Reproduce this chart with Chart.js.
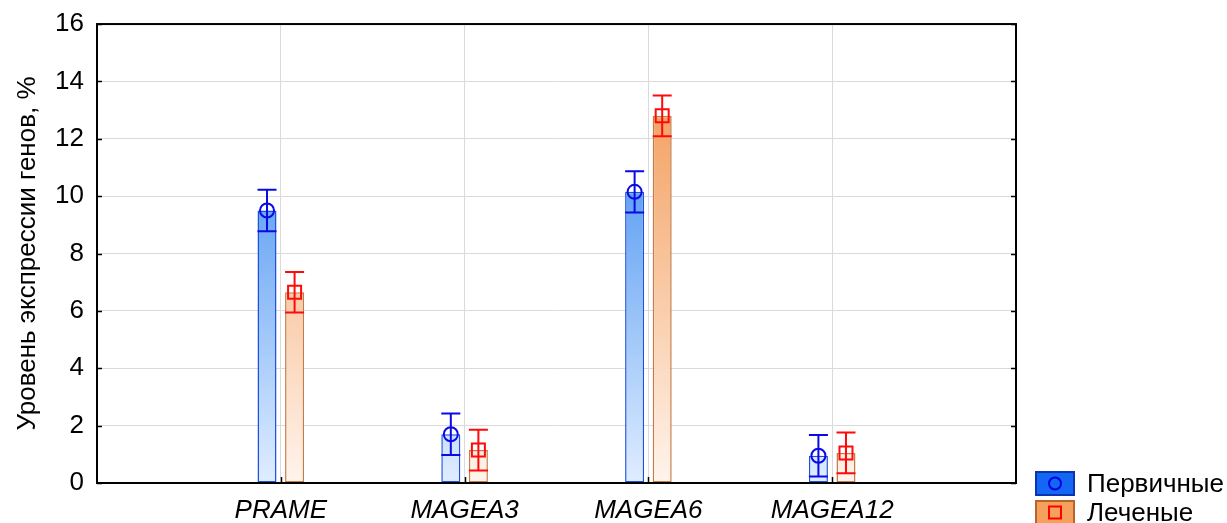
<!DOCTYPE html>
<html>
<head>
<meta charset="utf-8">
<script src="https://cdn.jsdelivr.net/npm/chart.js@4/dist/chart.umd.min.js"></script>
<style>
  html, body { margin: 0; padding: 0; background: #fff; }
  #wrap { position: relative; width: 1227px; height: 523px; }
</style>
</head>
<body>
<div id="wrap"><canvas id="c"></canvas></div>
<script>
// Gene expression levels (%), mean with error half-width
const genes = ['PRAME', 'MAGEA3', 'MAGEA6', 'MAGEA12'];
const primaryMean = [9.5, 1.7, 10.15, 0.95];
const primaryErr = [0.72, 0.72, 0.72, 0.72];
const treatedMean = [6.65, 1.15, 12.8, 1.05];
const treatedErr = [0.71, 0.71, 0.71, 0.71];
const seriesNames = ['Первичные', 'Леченые'];
const yTicks = [0, 2, 4, 6, 8, 10, 12, 14, 16];
const yTitle = 'Уровень экспрессии генов, %';

// empty slots on each side leave one category of space at the edges
const labels = ['', ...genes, ''];
const pad = arr => [null, ...arr, null];

const FONT = '"Liberation Sans", Arial, sans-serif';

function vGradient(ctx, top, bottom) {
  const chart = ctx.chart;
  const area = chart.chartArea;
  if (!area) return top;
  const g = chart.ctx.createLinearGradient(0, area.top, 0, area.bottom);
  g.addColorStop(0, top);
  g.addColorStop(1, bottom);
  return g;
}

const errorBarsPlugin = {
  id: 'errorBars',
  afterDatasetsDraw(chart) {
    const { ctx, scales: { y } } = chart;
    const specs = [
      { mean: primaryMean, err: primaryErr, color: '#0a0ae6', marker: 'circle' },
      { mean: treatedMean, err: treatedErr, color: '#ff0a0a', marker: 'square' }
    ];
    specs.forEach((s, di) => {
      const meta = chart.getDatasetMeta(di);
      s.mean.forEach((m, i) => {
        const bar = meta.data[i + 1];
        if (!bar) return;
        const x = bar.x;
        const half = bar.width / 2;
        const yTop = y.getPixelForValue(m + s.err[i]);
        const yBot = y.getPixelForValue(m - s.err[i]);
        const yMid = y.getPixelForValue(m);
        ctx.save();
        ctx.strokeStyle = s.color;
        ctx.lineWidth = 2;
        ctx.beginPath();
        ctx.moveTo(x, yTop); ctx.lineTo(x, yBot);
        ctx.moveTo(x - half, yTop); ctx.lineTo(x + half, yTop);
        ctx.moveTo(x - half, yBot); ctx.lineTo(x + half, yBot);
        ctx.stroke();
        ctx.beginPath();
        if (s.marker === 'circle') {
          ctx.arc(x, yMid, 7, 0, Math.PI * 2);
        } else {
          ctx.rect(x - 6.5, yMid - 6.5, 13, 13);
        }
        ctx.stroke();
        ctx.restore();
      });
    });
  },
  afterDraw(chart) {
    const { ctx, chartArea: a, scales: { x, y } } = chart;
    ctx.save();
    // frame
    ctx.strokeStyle = '#000';
    ctx.lineWidth = 2;
    ctx.strokeRect(a.left, a.top, a.right - a.left, a.bottom - a.top);
    // inner ticks
    ctx.lineWidth = 1.5;
    ctx.beginPath();
    yTicks.forEach(v => {
      const py = Math.round(y.getPixelForValue(v)) + 0.5;
      ctx.moveTo(a.left, py); ctx.lineTo(a.left + 5, py);
      ctx.moveTo(a.right, py); ctx.lineTo(a.right - 5, py);
    });
    genes.forEach((g, i) => {
      const px = Math.round(x.getPixelForValue(i + 1)) + 0.5;
      ctx.moveTo(px, a.bottom); ctx.lineTo(px, a.bottom - 6);
    });
    ctx.stroke();

    // legend
    const items = [
      { name: seriesNames[0], fill: '#1466f5', border: '#0b35b0', mark: '#0000e6', marker: 'circle' },
      { name: seriesNames[1], fill: '#f5a05c', border: '#b8652c', mark: '#ff0000', marker: 'square' }
    ];
    const lx = 1036, ly0 = 472, bw = 38, bh = 23, step = 29;
    items.forEach((it, k) => {
      const by = ly0 + k * step;
      ctx.fillStyle = it.fill;
      ctx.fillRect(lx, by, bw, bh);
      ctx.strokeStyle = it.border;
      ctx.lineWidth = 2;
      ctx.strokeRect(lx, by, bw, bh);
      ctx.strokeStyle = it.mark;
      ctx.lineWidth = 2;
      ctx.beginPath();
      const cx = lx + bw / 2, cy = by + bh / 2;
      if (it.marker === 'circle') ctx.arc(cx, cy, 6, 0, Math.PI * 2);
      else ctx.rect(cx - 6, cy - 6, 12, 12);
      ctx.stroke();
      ctx.fillStyle = '#000';
      ctx.font = '26px ' + FONT;
      ctx.textBaseline = 'middle';
      ctx.textAlign = 'left';
      ctx.fillText(it.name, 1087, cy + 1);
    });
    ctx.restore();
  }
};

new Chart(document.getElementById('c'), {
  type: 'bar',
  data: {
    labels: labels,
    datasets: [
      {
        label: seriesNames[0],
        data: pad(primaryMean),
        backgroundColor: ctx => vGradient(ctx, '#1b78ec', '#e0edff'),
        borderColor: '#1f52dc',
        borderWidth: 1.5,
        borderSkipped: false
      },
      {
        label: seriesNames[1],
        data: pad(treatedMean),
        backgroundColor: ctx => vGradient(ctx, '#f18f44', '#fff4ec'),
        borderColor: '#c47c48',
        borderWidth: 1.5,
        borderSkipped: false
      }
    ]
  },
  options: {
    responsive: true,
    maintainAspectRatio: false,
    animation: false,
    datasets: { bar: { categoryPercentage: 0.3, barPercentage: 0.69 } },
    layout: { padding: { left: 0, top: 22, right: 211, bottom: 0 } },
    plugins: {
      legend: { display: false },
      tooltip: { enabled: false }
    },
    scales: {
      x: {
        type: 'category',
        offset: false,
        grid: { offset: false, color: '#dadada', lineWidth: 1, drawTicks: false },
        border: { display: false },
        ticks: {
          color: '#000',
          font: { family: FONT, size: 26, style: 'italic' },
          padding: 12,
          maxRotation: 0,
          autoSkip: false
        },
        afterFit: s => { s.height = 40; }
      },
      y: {
        min: 0,
        max: 16,
        afterBuildTicks: s => { s.ticks = yTicks.map(v => ({ value: v })); },
        grid: { color: '#dadada', lineWidth: 1, drawTicks: false },
        border: { display: false },
        ticks: {
          color: '#000',
          font: { family: FONT, size: 26, lineHeight: 0.85 },
          padding: 13
        },
        title: {
          display: true,
          text: yTitle,
          color: '#000',
          font: { family: FONT, size: 26 },
          padding: { top: 12, bottom: 0 }
        },
        afterFit: s => { s.width = 97; }
      }
    }
  },
  plugins: [errorBarsPlugin]
});
</script>
</body>
</html>
